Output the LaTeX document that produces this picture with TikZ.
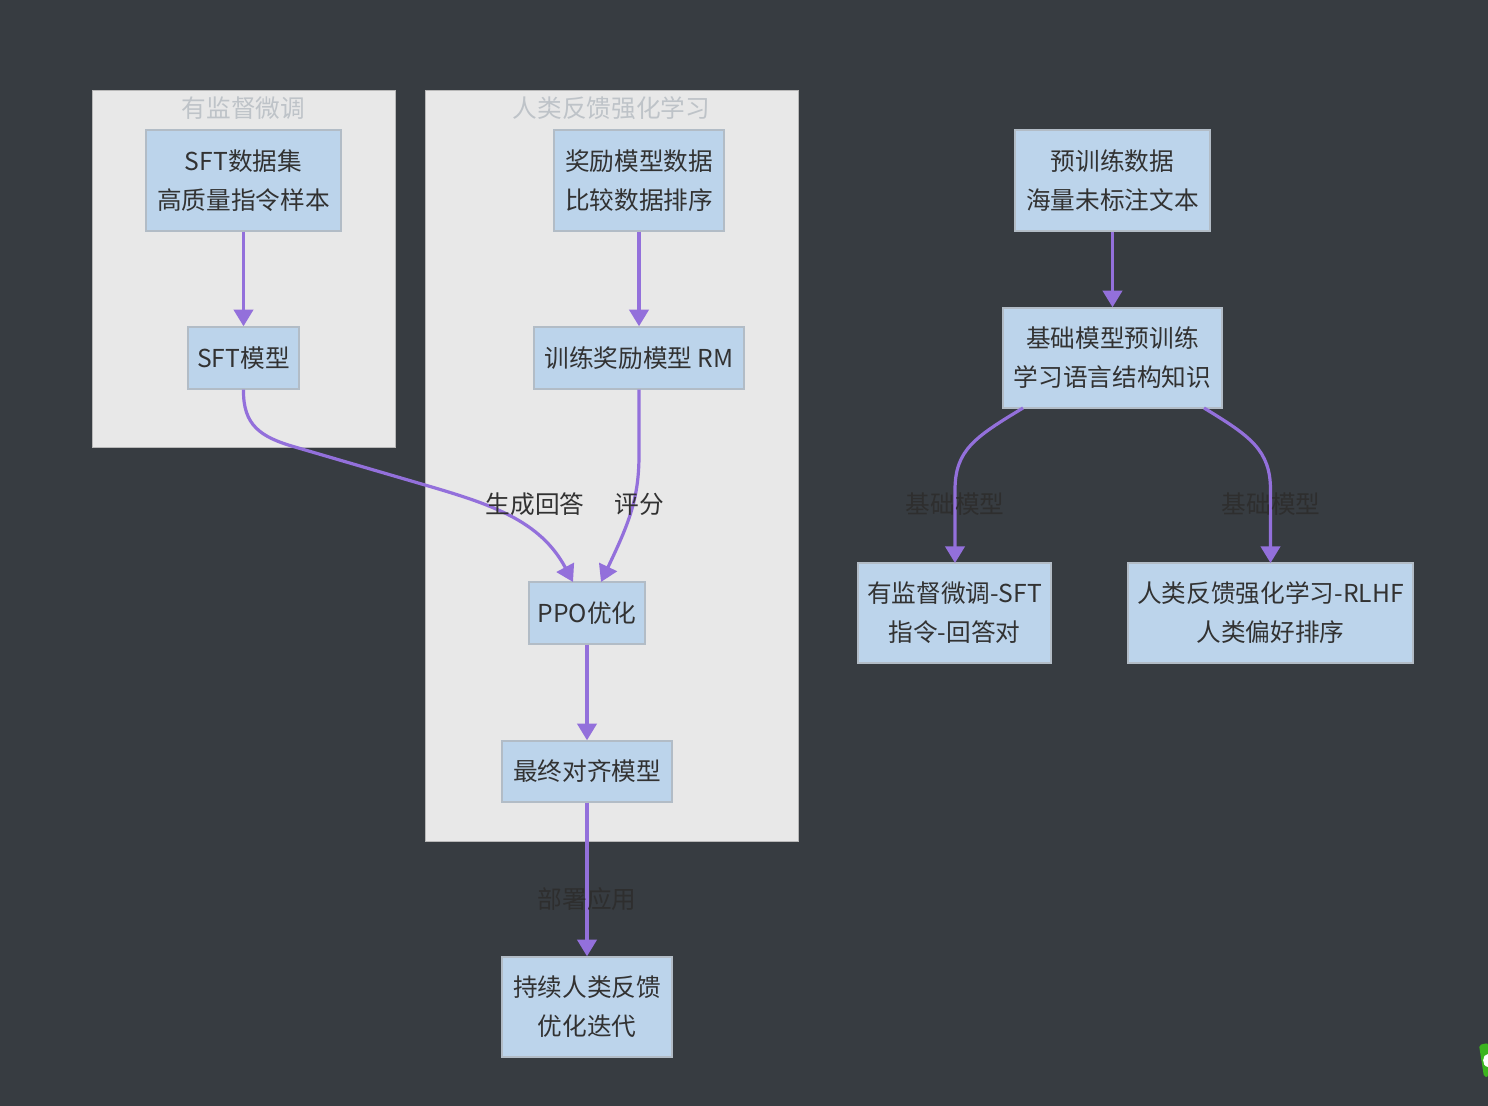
\documentclass[tikz,border=0pt]{standalone}
\usepackage{fontspec}
\setmainfont{Noto Sans CJK SC}
\usetikzlibrary{arrows.meta,positioning}
\definecolor{slateBack}{RGB}{55,60,65}
\definecolor{clusterFill}{RGB}{232,232,232}
\definecolor{clusterEdge}{RGB}{184,184,184}
\definecolor{clusterText}{RGB}{190,195,200}
\definecolor{boxFill}{RGB}{188,212,235}
\definecolor{boxEdge}{RGB}{178,188,198}
\definecolor{boxText}{RGB}{50,50,50}
\definecolor{flowPurple}{RGB}{147,112,219}
\definecolor{labelDark}{RGB}{46,46,46}
\definecolor{badgeGreen}{RGB}{60,180,30}
\tikzset{
  cluster/.style={rectangle,draw=clusterEdge,fill=clusterFill,line width=0.75pt,inner sep=0pt},
  clustertitle/.style={font=\fontsize{18.5}{24}\selectfont,text=clusterText,inner sep=0pt},
  stagebox/.style={rectangle,draw=boxEdge,fill=boxFill,line width=1.1pt,inner sep=0pt,
                   align=center,text=boxText,font=\fontsize{18.5}{29.25}\selectfont},
  flow/.style={draw=flowPurple,line width=2.4pt,-{Triangle[length=12.5pt,width=14.5pt]}},
  flowlabel/.style={font=\fontsize{18.5}{24}\selectfont,inner sep=0pt},
}

\begin{document}
\begin{tikzpicture}[x=0.75pt,y=-0.75pt]
\useasboundingbox (0,0) rectangle (1488,1106);
\fill[slateBack] (0,0) rectangle (1488,1106);

% subgraph frames
\node[cluster,minimum width=227.25pt,minimum height=267pt] (sftFrame) at (243.5,269) {};
\node[cluster,minimum width=279.75pt,minimum height=562.5pt] (rlhfFrame) at (611.5,466) {};
\node[clustertitle] (sftTitle) at (243.5,108) {有监督微调};
\node[clustertitle] (rlhfTitle) at (611.5,108) {人类反馈强化学习};

% stages: name/centre x/centre y/width/height/text
\foreach \id/\cx/\cy/\bw/\bh/\lbl in {
  sftData/243.5/180.5/195/101/{SFT数据集\\高质量指令样本},
  sftModel/243.5/358/111/62/{SFT模型},
  rewardData/639/180.5/170/101/{奖励模型数据\\比较数据排序},
  rewardModel/639/358/210/62/{训练奖励模型 RM},
  ppoStep/587/613/116/62/{PPO优化},
  finalModel/587/771.5/170/61/{最终对齐模型},
  iterStep/587/1007/170/100/{持续人类反馈\\优化迭代},
  preData/1112.5/180.5/195/101/{预训练数据\\海量未标注文本},
  baseModel/1112.5/358/219/100/{基础模型预训练\\学习语言结构知识},
  sftStage/954.5/613/193/100/{有监督微调-SFT\\指令-回答对},
  rlhfStage/1270.5/613/285/100/{人类反馈强化学习-RLHF\\人类偏好排序}}
{
  \node[stagebox,minimum width=0.75pt*\bw,minimum height=0.75pt*\bh] (\id) at (\cx,\cy) {\lbl};
}

% free ends on the box borders
\coordinate (ppoLeft) at (573,582);
\coordinate (ppoRight) at (601,582);
\coordinate (baseLeft) at (1023,408);
\coordinate (baseRight) at (1204,408);
\coordinate (sftTop) at (955,563);
\coordinate (rlhfTop) at (1270.5,563);

\draw[flow] (sftData) -- (sftModel);
\draw[flow] (rewardData.south) -- (rewardModel.north);
\draw[flow] (ppoStep) -- (finalModel);
\draw[flow] (finalModel) -- (iterStep);
\draw[flow] (preData) -- (baseModel);
\draw[flow] (sftModel.south) .. controls (243,425) and (260,437) .. (295,447)
  -- (425,485) .. controls (490,504) and (540,520) .. (ppoLeft);
\draw[flow] (rewardModel.south) -- (639,455) .. controls (639,500) and (628,525) .. (ppoRight);
\draw[flow] (baseLeft) .. controls (975,437) and (955,450) .. (955,490) -- (sftTop);
\draw[flow] (baseRight) .. controls (1250,436) and (1270.5,450) .. (1270.5,490) -- (rlhfTop);

% edge labels
\node[flowlabel,text=boxText] (genLabel) at (535,504.5) {生成回答};
\node[flowlabel,text=boxText] (scoreLabel) at (639,504.5) {评分};
\node[flowlabel,text=labelDark] (baseLabelA) at (955,504.5) {基础模型};
\node[flowlabel,text=labelDark] (baseLabelB) at (1271,504.5) {基础模型};
\node[flowlabel,text=labelDark] (deployLabel) at (587,899.5) {部署应用};

% corner badge
\fill[badgeGreen,rounded corners=1.5pt] (1488,1043) -- (1479,1045) -- (1484,1077) -- (1488,1077) -- cycle;
\fill[white] (1488,1054) .. controls (1482,1054) and (1481,1066) .. (1488,1067) -- cycle;
\end{tikzpicture}
\end{document}
